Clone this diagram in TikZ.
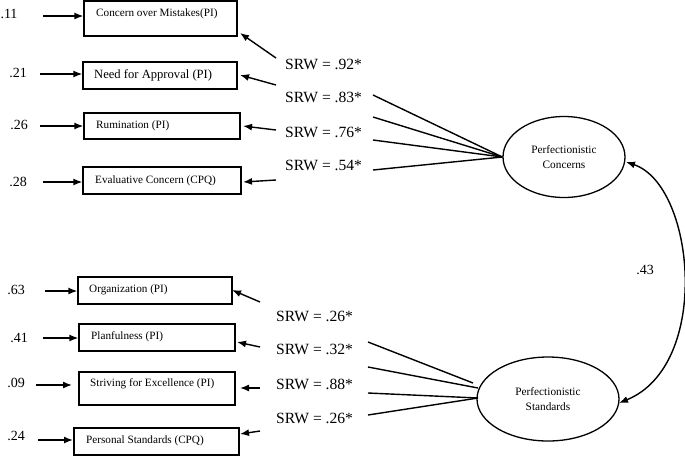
\documentclass[tikz,border=0pt]{standalone}
\usepackage{fontspec}
\setmainfont{Liberation Serif}
\usetikzlibrary{arrows.meta,shapes.geometric}
\begin{document}
\begin{tikzpicture}[x=1pt,y=-1pt,
  box/.style={draw,line width=1.3pt,inner sep=0pt},
  btxt/.style={anchor=west,inner sep=0pt,font=\fontsize{11.2}{13}\selectfont},
  lbl/.style={inner sep=0pt,font=\fontsize{14}{16}\selectfont},
  srw/.style={anchor=west,inner sep=0pt,font=\fontsize{15.6}{18}\selectfont},
  lat/.style={draw,ellipse,line width=1.3pt,inner sep=0pt,align=center,font=\fontsize{11.3}{15.5}\selectfont},
  arr/.style={line width=1.4pt,-{Latex[length=9pt,width=7pt]}},
  ln/.style={line width=1.4pt},
  dbl/.style={line width=1.4pt,{Latex[length=9pt,width=7pt]}-{Latex[length=9pt,width=7pt]}}]
\useasboundingbox (0,0) rectangle (685,456);

% upper boxes
\node[box,minimum width=153pt,minimum height=35pt] (b1) at (160.5,18.5) {};
\node[btxt] (t1) at (96,14) {Concern over Mistakes(PI)};
\node[box,minimum width=154pt,minimum height=27pt] (b2) at (160,75.5) {};
\node[btxt,font=\fontsize{12.6}{14}\selectfont] (t2) at (94,75) {Need for Approval (PI)};
\node[box,minimum width=156pt,minimum height=26pt] (b3) at (162,126) {};
\node[btxt] (t3) at (96,126) {Rumination (PI)};
\node[box,minimum width=158pt,minimum height=27pt] (b4) at (162,180.5) {};
\node[btxt] (t4) at (95,181) {Evaluative Concern (CPQ)};

% lower boxes
\node[box,minimum width=154pt,minimum height=27pt] (b5) at (155,290.5) {};
\node[btxt] (t5) at (89,290) {Organization (PI)};
\node[box,minimum width=156pt,minimum height=27pt] (b6) at (157,337.5) {};
\node[btxt] (t6) at (91,337) {Planfulness (PI)};
\node[box,minimum width=156pt,minimum height=33pt] (b7) at (157,388.5) {};
\node[btxt] (t7) at (90,384) {Striving for Excellence (PI)};
\node[box,minimum width=165pt,minimum height=27pt] (b8) at (156.5,441.5) {};
\node[btxt] (t8) at (86,441) {Personal Standards (CPQ)};

% error labels
\node[lbl] (e1) at (9,14) {.11};
\node[lbl] (e2) at (18,73) {.21};
\node[lbl] (e3) at (19,125) {.26};
\node[lbl] (e4) at (18,182) {.28};
\node[lbl] (e5) at (16,290) {.63};
\node[lbl] (e6) at (19,338) {.41};
\node[lbl] (e7) at (16,383) {.09};
\node[lbl] (e8) at (16,436) {.24};

\draw[arr] (43,16) -- (b1.west |- 0,16);
\draw[arr] (40,74) -- (b2.west |- 0,74);
\draw[arr] (40,126) -- (b3.west |- 0,126);
\draw[arr] (43,182) -- (b4.west |- 0,182);
\draw[arr] (45,291) -- (b5.west |- 0,291);
\draw[arr] (43,338) -- (b6.west |- 0,338);
\draw[arr] (36,385) -- (72,385);
\draw[arr] (38,440) -- (73,440);

% latent variables
\node[lat,minimum width=122pt,minimum height=81pt] (pc) at (564,157) {Perfectionistic\\Concerns};
\node[lat,minimum width=142pt,minimum height=84pt] (ps) at (548,399) {Perfectionistic\\Standards};

% SRW labels
\node[srw] (s1) at (285,64) {SRW = .92*};
\node[srw] (s2) at (285,97) {SRW = .83*};
\node[srw] (s3) at (285,132) {SRW = .76*};
\node[srw] (s4) at (285,165) {SRW = .54*};
\node[srw] (s5) at (276,316) {SRW = .26*};
\node[srw] (s6) at (276,349) {SRW = .32*};
\node[srw] (s7) at (276,384) {SRW = .88*};
\node[srw] (s8) at (276,418) {SRW = .26*};

% loading arrows into boxes (upper)
\draw[arr] (276,58) -- (240,33);
\draw[arr] (276,85) -- (240,75);
\draw[arr] (276,130) -- (243,126);
\draw[arr] (276,180) -- (243,182);
% lines to Concerns
\draw[ln] (373,95) -- (pc.west);
\draw[ln] (373,117) -- (pc.west);
\draw[ln] (373,140) -- (pc.west);
\draw[ln] (373,170) -- (pc.west);

% loading arrows into boxes (lower)
\draw[arr] (260,302) -- (232,290);
\draw[arr] (260,347) -- (237,342);
\draw[arr] (260,388) -- (240,388);
\draw[arr] (260,431) -- (240,434);
% lines to Standards
\draw[ln] (368,342) -- (473,383);
\draw[ln] (368,367) -- (478,388);
\draw[ln] (368,393) -- (478,398);
\draw[ln] (368,415) -- (478,398);

% correlation
\draw[dbl] (626,162) .. controls (695,185) and (712,365) .. (619,403);
\node[lbl] (r) at (645,270) {.43};
\end{tikzpicture}
\end{document}
